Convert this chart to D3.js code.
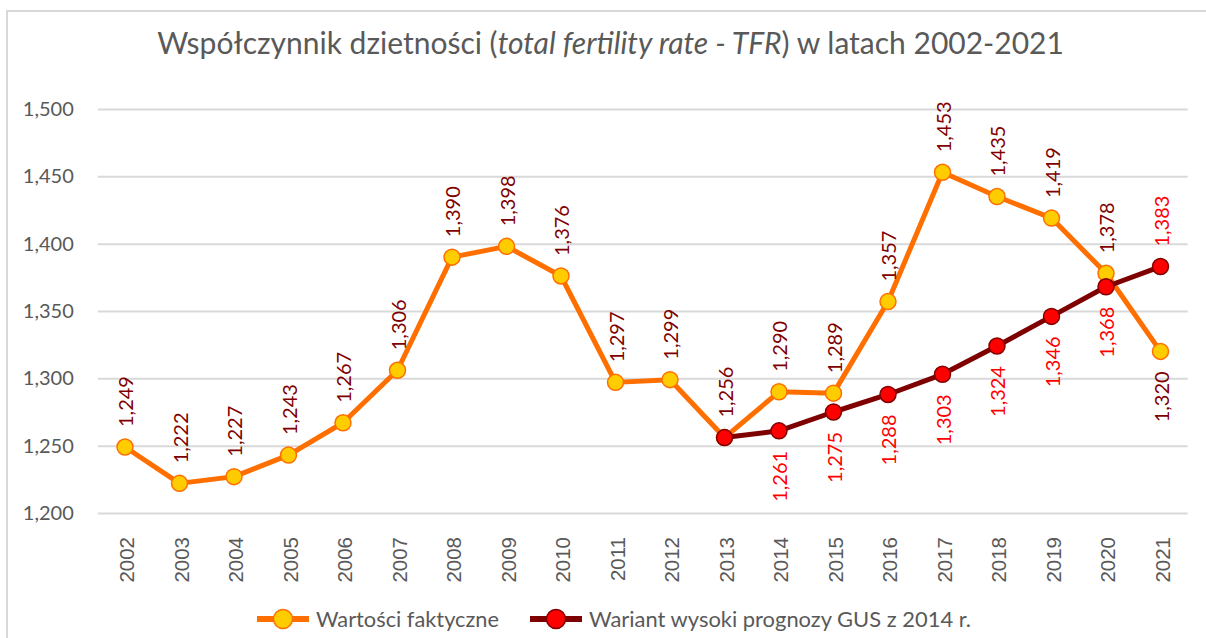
<!DOCTYPE html>
<html><head><meta charset="utf-8">
<script src="https://cdn.jsdelivr.net/npm/d3@7"></script>
<style>body{margin:0;background:#fff}svg{display:block}</style>
</head><body>
<svg id="c" width="1206" height="638"></svg>
<script>
const years = ["2002","2003","2004","2005","2006","2007","2008","2009","2010","2011","2012","2013","2014","2015","2016","2017","2018","2019","2020","2021"];
const actual = [1.249,1.222,1.227,1.243,1.267,1.306,1.390,1.398,1.376,1.297,1.299,1.256,1.290,1.289,1.357,1.453,1.435,1.419,1.378,1.320];
const forecastYears = ["2013","2014","2015","2016","2017","2018","2019","2020","2021"];
const forecast = [1.256,1.261,1.275,1.288,1.303,1.324,1.346,1.368,1.383];
const yTicks = [1.2,1.25,1.3,1.35,1.4,1.45,1.5];
const seriesNames = ["Wartości faktyczne","Wariant wysoki prognozy GUS z 2014 r."];
const actualBelow = ["2021"];
const forecastAbove = ["2021"];

const svg = d3.select("#c");
const fmt = v => d3.format(".3f")(v).replace(".", ",");

const font = "Lato, 'Open Sans', sans-serif";
const grey = "#595959";

svg.append("rect").attr("x",7).attr("y",11).attr("width",1220).attr("height",660)
  .attr("fill","none").attr("stroke","#d9d9d9").attr("stroke-width",2);

const x = d3.scaleBand().domain(years).range([97.75,1187.75]);
const y = d3.scaleLinear().domain([1.2,1.5]).range([513,109]);
const cx = d => x(d) + x.bandwidth()/2;

// title
const title = svg.append("text").attr("x",610.5).attr("y",54).attr("text-anchor","middle")
  .attr("font-family",font).attr("font-size",30).attr("fill",grey);
title.append("tspan").text("Współczynnik dzietności (");
title.append("tspan").attr("font-style","italic").text("total fertility rate - TFR");
title.append("tspan").text(") w latach 2002-2021");

// grid + y axis
const yAxis = d3.axisLeft(y).tickValues(yTicks).tickFormat(fmt).tickSize(-(1187.75-97.75)).tickPadding(24);
const gy = svg.append("g").attr("transform","translate(97.75,0)").call(yAxis);
gy.select(".domain").remove();
gy.selectAll(".tick line").attr("stroke","#d9d9d9").attr("stroke-width",2);
gy.selectAll(".tick text").attr("font-family",font).attr("font-size",20).attr("fill",grey);

// x axis labels
const xAxis = d3.axisBottom(x).tickSize(0).tickPadding(0);
const gx = svg.append("g").attr("transform","translate(0,513)").call(xAxis);
gx.select(".domain").remove();
gx.selectAll(".tick text").attr("font-family","'Liberation Sans', Arial, sans-serif").attr("font-size",20.5)
  .attr("fill",grey).attr("text-anchor","end").attr("transform","translate(2,24) rotate(-90)")
  .attr("x",0).attr("y",0).attr("dy","0.36em");

const line = d3.line().x(d=>cx(d[0])).y(d=>y(d[1]));
const actualData = years.map((yr,i)=>[yr,actual[i]]);
const fcData = forecastYears.map((yr,i)=>[yr,forecast[i]]);

const orange = "#ff6f00", yellow = "#ffcc00", dark = "#7f0000", red = "#ff0000";

svg.append("path").datum(actualData).attr("d",line).attr("fill","none").attr("stroke",orange).attr("stroke-width",5).attr("stroke-linejoin","round");
svg.selectAll("circle.a").data(actualData).join("circle").attr("class","a")
  .attr("cx",d=>cx(d[0])).attr("cy",d=>y(d[1])).attr("r",8).attr("fill",yellow).attr("stroke",orange).attr("stroke-width",1.5);

svg.append("path").datum(fcData).attr("d",line).attr("fill","none").attr("stroke",dark).attr("stroke-width",5).attr("stroke-linejoin","round");
svg.selectAll("circle.f").data(fcData).join("circle").attr("class","f")
  .attr("cx",d=>cx(d[0])).attr("cy",d=>y(d[1])).attr("r",8).attr("fill",red).attr("stroke",dark).attr("stroke-width",1.5);

function label(d, color, below){
  const px = cx(d[0]) + 1, py = y(d[1]);
  svg.append("text").attr("transform",`translate(${px},${below ? py+20 : py-20}) rotate(-90)`)
    .attr("text-anchor", below ? "end" : "start").attr("dy","0.35em")
    .attr("font-family",font).attr("font-size",20).attr("fill",color).text(fmt(d[1]));
}
actualData.forEach(d=>label(d, dark, actualBelow.includes(d[0])));
fcData.forEach(d=>{ if(d[0]!=="2013") label(d, red, !forecastAbove.includes(d[0])); });

// legend
const lg = svg.append("g");
const items = [
  {name:seriesNames[0],line:orange,fill:yellow,stroke:orange,x0:257,w:183},
  {name:seriesNames[1],line:dark,fill:red,stroke:dark,x0:530,w:382}
];
items.forEach(it=>{
  lg.append("line").attr("x1",it.x0).attr("x2",it.x0+52).attr("y1",619).attr("y2",619).attr("stroke",it.line).attr("stroke-width",6);
  lg.append("circle").attr("cx",it.x0+26).attr("cy",619).attr("r",9.5).attr("fill",it.fill).attr("stroke",it.stroke).attr("stroke-width",1.5);
  lg.append("text").attr("x",it.x0+59).attr("y",619).attr("dy","0.35em").attr("font-family",font).attr("font-size",22)
    .attr("textLength",it.w).attr("lengthAdjust","spacingAndGlyphs").attr("fill",grey).text(it.name);
});
</script>
</body></html>
